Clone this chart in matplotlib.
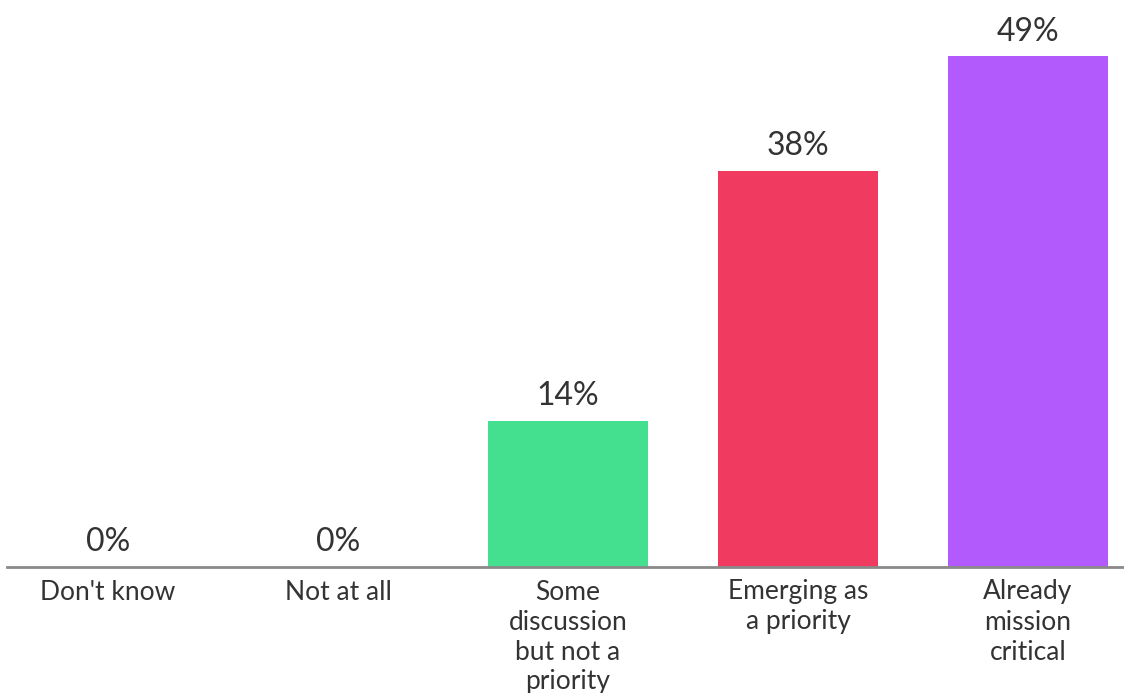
import matplotlib.pyplot as plt

# survey answers and share of respondents (%)
categories = ["Don't know", "Not at all", "Some\ndiscussion\nbut not a\npriority",
              "Emerging as\na priority", "Already\nmission\ncritical"]
values = [0, 0, 14, 38, 49]
colors = ["#45E08F", "#45E08F", "#45E08F", "#F03A60", "#B25AFB"]

plt.rcParams['font.family'] = ['Lato', 'DejaVu Sans']
text_color = "#333333"

fig = plt.figure(figsize=(11.24, 6.93), dpi=100)
ax = fig.add_axes([7 / 1124, 126 / 693, 1117 / 1124, 567 / 693])

x = range(len(categories))
bars = ax.bar(x, values, width=0.696, color=colors)

for xi, v in zip(x, values):
    ax.annotate(f"{v}%", (xi, v), xytext=(0, 7), textcoords="offset points",
                ha="center", va="bottom", fontsize=23, color=text_color)

ax.set_xlim(-0.439, 4.417)
ax.set_ylim(0, 54.4)
ax.set_xticks(list(x))
ax.set_xticklabels(categories, fontsize=19, color=text_color, linespacing=1.25,
                   va="top")
ax.tick_params(axis="x", length=0, pad=9)
ax.set_yticks([])

for side in ["top", "right", "left"]:
    ax.spines[side].set_visible(False)
ax.spines["bottom"].set_color("#8a8a8a")
ax.spines["bottom"].set_linewidth(2)

fig.savefig("out.png", dpi=100)
